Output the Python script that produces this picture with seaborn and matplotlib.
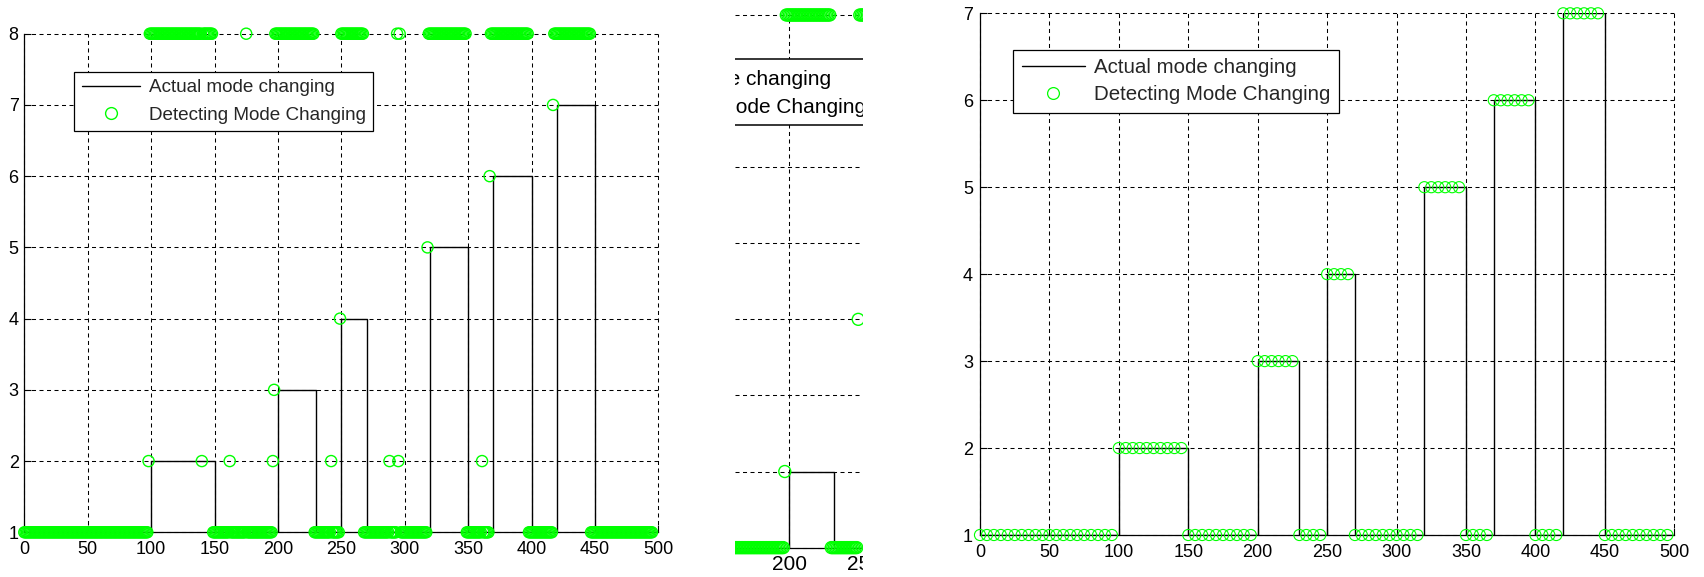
import numpy as np
import pandas as pd
import matplotlib
matplotlib.use("Agg")
import matplotlib.pyplot as plt
import seaborn as sns
from matplotlib.lines import Line2D
from matplotlib.patches import Rectangle

# ---------------- data ----------------
# actual mode (left and right panels): segment start points and levels
mode_breaks = [0, 100, 150, 200, 230, 250, 270, 320, 350, 370, 400, 420, 450, 500]
mode_levels = [1, 2, 1, 3, 1, 4, 1, 5, 1, 6, 1, 7, 1]

# detected mode, left panel (one sample per time step): run starts and values
left_det_starts = [0, 98, 99, 140, 141, 149, 162, 163, 175, 176, 196, 197, 198,
                   229, 242, 243, 249, 250, 268, 288, 289, 294, 295, 296, 297,
                   318, 319, 349, 361, 362, 367, 368, 398, 417, 418, 447]
left_det_values = [1, 2, 8, 2, 8, 1, 2, 1, 8, 1, 2, 3, 8,
                   1, 2, 1, 4, 8, 1, 2, 1, 8, 2, 8, 1,
                   5, 8, 1, 2, 1, 6, 8, 1, 7, 8, 1]
left_det_end = 496

# middle panel (zoomed crop of another run)
mid_breaks = [0, 200, 230, 250, 270]
mid_levels = [1, 2, 1, 4]
mid_det_starts = [150, 197, 198, 228, 246, 247, 268]
mid_det_values = [1, 2, 8, 1, 4, 8, 1]
mid_det_end = 300

# right panel: detection sampled every 5 steps
right_sample_x = list(range(0, 500, 5))

x_ticks = [0, 50, 100, 150, 200, 250, 300, 350, 400, 450, 500]
legend_labels = ["Actual mode changing", "Detecting Mode Changing"]

GREEN = "#00ff00"
W, H = 1704, 577

sns.set_style("ticks")
plt.rcParams["font.family"] = ["Liberation Sans", "DejaVu Sans"]
plt.rcParams["lines.scale_dashes"] = False
plt.rcParams["axes.axisbelow"] = True


def expand_runs(starts, values, end):
    lengths = np.diff(list(starts) + [end])
    x = np.arange(starts[0], end)
    y = np.repeat(values, lengths)
    return x, y


def draw_step(ax, breaks, levels, lw=1.0):
    df = pd.DataFrame({"t": breaks, "mode": list(levels) + [levels[-1]]})
    sns.lineplot(data=df, x="t", y="mode", ax=ax, drawstyle="steps-post",
                 color="black", linewidth=lw, estimator=None, sort=False,
                 legend=False, zorder=2)


def draw_marks(ax, x, y, size, lw):
    df = pd.DataFrame({"t": x, "mode": y})
    sns.scatterplot(data=df, x="t", y="mode", ax=ax, marker="o", s=size ** 2,
                    legend=False, zorder=3)
    coll = ax.collections[-1]
    coll.set_facecolor("none")
    coll.set_edgecolor(GREEN)
    coll.set_linewidth(lw)
    coll.set_clip_on(False)


def style(ax, xlim, ylim, xticks, yticks, fs, xpad, ypad):
    ax.set_xticks(xticks)
    ax.set_yticks(yticks)
    ax.set_xlim(*xlim)
    ax.set_ylim(*ylim)
    ax.grid(True, color="black", linestyle=(0, (2.9, 2.5)), linewidth=0.75,
            clip_on=False)
    for s in ["top", "right"]:
        ax.spines[s].set_visible(False)
    for s in ["left", "bottom"]:
        ax.spines[s].set_linewidth(0.9)
        ax.spines[s].set_color("black")
    ax.tick_params(axis="both", direction="in", length=5, width=0.8,
                   labelsize=fs, colors="black")
    ax.tick_params(axis="x", pad=xpad)
    ax.tick_params(axis="y", pad=ypad)
    ax.set_xlabel("")
    ax.set_ylabel("")


def legend_handles(ms, mew):
    return [Line2D([], [], color="black", lw=1.0),
            Line2D([], [], marker="o", ls="none", mfc="none", mec=GREEN,
                   ms=ms, mew=mew)]


fig = plt.figure(figsize=(W / 100, H / 100), dpi=100)
fig.patch.set_facecolor("white")

axL = fig.add_axes([24.3 / W, 1 - 532.3 / H, (658.3 - 24.3) / W, (532.3 - 33.7) / H])
axM = fig.add_axes([735 / W, 1 - 547.6 / H, (880 - 735) / W, (547.6 - 15) / H])
axR = fig.add_axes([980 / W, 1 - 535 / H, (1674.3 - 980) / W, (535 - 13.3) / H])

# ---------------- left panel ----------------
draw_step(axL, mode_breaks, mode_levels)
lx, ly = expand_runs(left_det_starts, left_det_values, left_det_end)
draw_marks(axL, lx, ly, 8.0, 1.0)
style(axL, (0, 500), (1, 8), x_ticks, list(range(1, 9)), 13, 6, 4)
legL = axL.legend(legend_handles(8.5, 1.0), legend_labels, loc="upper left",
                  bbox_to_anchor=(74 / W, 1 - 71.7 / H), bbox_transform=fig.transFigure,
                  borderaxespad=0, fontsize=13.6, frameon=True, fancybox=False,
                  edgecolor="black", framealpha=1, handlelength=3.1,
                  handletextpad=0.45, borderpad=0.4, labelspacing=0.52)
legL.get_frame().set_linewidth(0.9)

# ---------------- middle panel (cropped zoom) ----------------
draw_step(axM, mid_breaks, mid_levels)
mx, my = expand_runs(mid_det_starts, mid_det_values, mid_det_end)
draw_marks(axM, mx, my, 8.6, 1.0)
style(axM, (163.8, 260.5), (1, 8), [200, 250], list(range(1, 9)), 15, 5.5, 4)
axM.spines["left"].set_visible(False)
axM.tick_params(axis="y", length=0, labelleft=False)
box = Rectangle((60, 6.555), 400, 7.42 - 6.555, transform=axM.transData,
                facecolor="white", edgecolor="black", lw=1.1, zorder=4)
axM.add_patch(box)
for txt, yb in zip(legend_labels, [7.08, 6.71]):
    t = axM.text(89.8, yb, txt, fontsize=15, va="baseline", ha="left",
                 color="black", zorder=5, clip_on=True)
    t.set_clip_box(axM.bbox)

# ---------------- right panel ----------------
draw_step(axR, mode_breaks, mode_levels)
idx = np.searchsorted(mode_breaks, right_sample_x, side="right") - 1
right_det = [mode_levels[i] for i in idx]
draw_marks(axR, right_sample_x, right_det, 8.0, 0.8)
style(axR, (0, 500), (1, 7), x_ticks, list(range(1, 8)), 13, 6.5, 5)
legR = axR.legend(legend_handles(8.5, 0.9), legend_labels, loc="upper left",
                  bbox_to_anchor=(1013.3 / W, 1 - 50 / H), bbox_transform=fig.transFigure,
                  borderaxespad=0, fontsize=14.8, frameon=True, fancybox=False,
                  edgecolor="black", framealpha=1, handlelength=3.1,
                  handletextpad=0.45, borderpad=0.4, labelspacing=0.4)
legR.get_frame().set_linewidth(0.9)

# white crop strips around the middle panel
for x0, x1 in [(673, 735), (863.3, 955)]:
    fig.patches.append(Rectangle((x0 / W, 0), (x1 - x0) / W, 1, transform=fig.transFigure,
                                 facecolor="white", edgecolor="none", zorder=10))

fig.savefig("out.png", dpi=100)
